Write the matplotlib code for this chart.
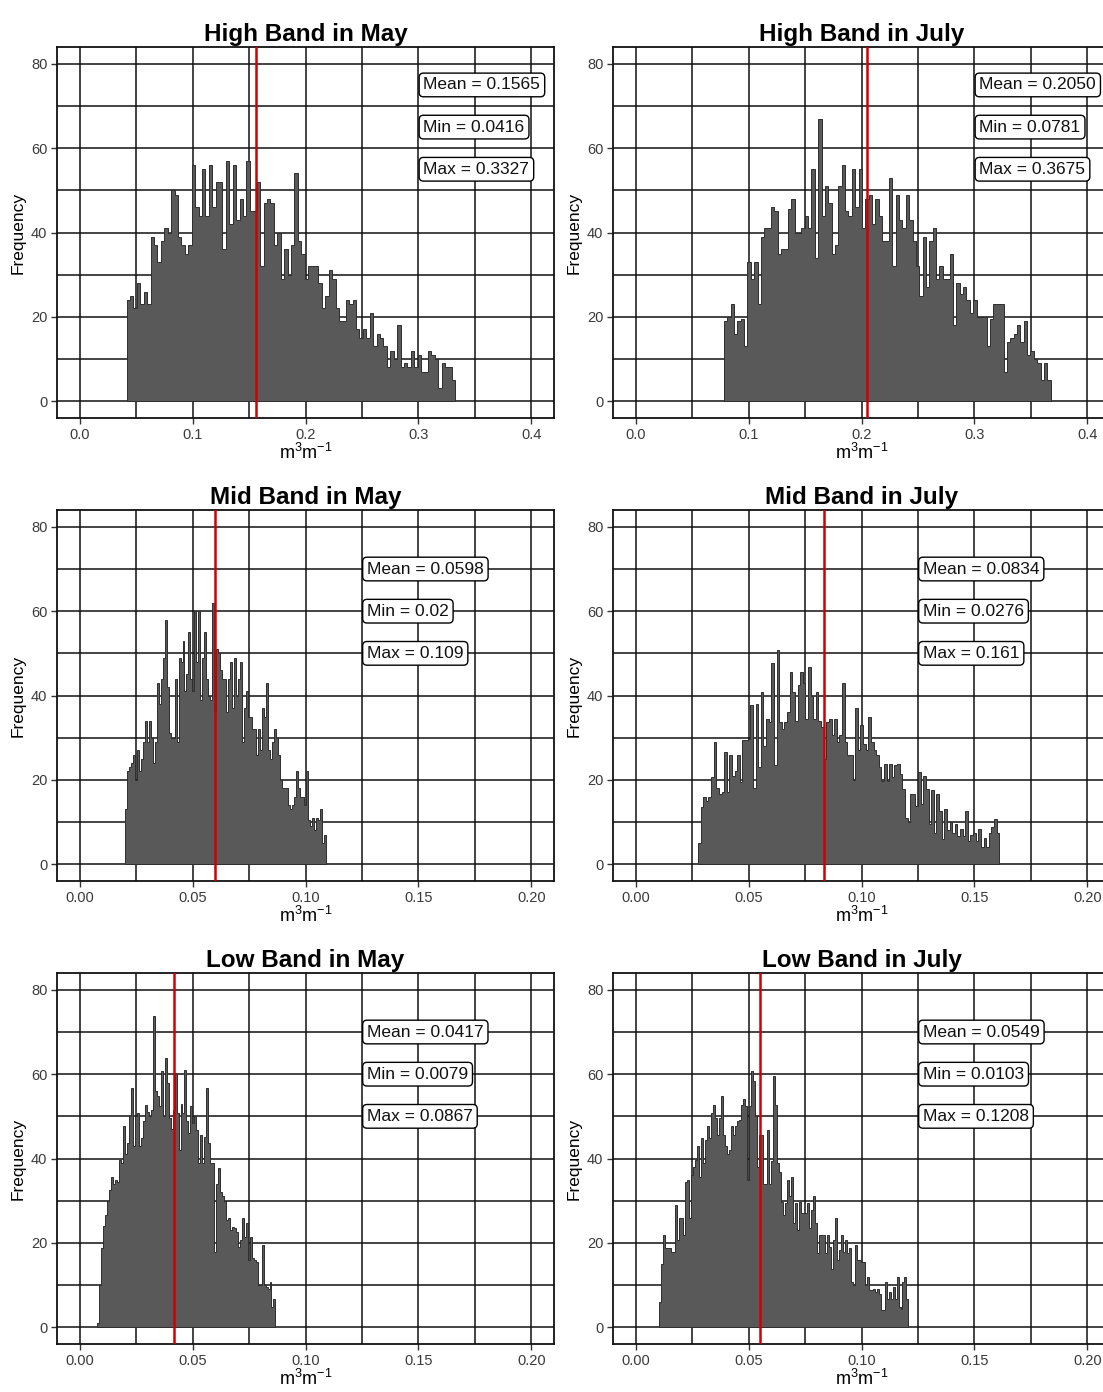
import numpy as np
import matplotlib
matplotlib.use('Agg')
import matplotlib.pyplot as plt
from matplotlib.ticker import MultipleLocator, FormatStrFormatter

plt.rcParams['font.family'] = ['Liberation Sans', 'DejaVu Sans']
plt.rcParams['mathtext.fontset'] = 'custom'
plt.rcParams['mathtext.rm'] = 'Liberation Sans'
plt.rcParams['mathtext.it'] = 'Liberation Sans'

# ---------------- data ----------------
titles = ["High Band in May", "High Band in July",
          "Mid Band in May", "Mid Band in July",
          "Low Band in May", "Low Band in July"]

means = [0.1565, 0.2050, 0.0598, 0.0834, 0.0417, 0.0549]
mins = [0.0416, 0.0781, 0.02, 0.0276, 0.0079, 0.0103]
maxs = [0.3327, 0.3675, 0.109, 0.161, 0.0867, 0.1208]
mean_labels = ["0.1565", "0.2050", "0.0598", "0.0834", "0.0417", "0.0549"]
min_labels = ["0.0416", "0.0781", "0.02", "0.0276", "0.0079", "0.0103"]
max_labels = ["0.3327", "0.3675", "0.109", "0.161", "0.0867", "0.1208"]

high_may_counts = [24, 25, 22, 28, 23, 26, 23, 39, 37, 33, 38, 41, 40, 50, 49, 39,
                   37, 35, 37, 56, 46, 44, 55, 44, 56, 46, 52, 52, 36, 57, 42, 56,
                   43, 48, 44, 57, 45, 45, 52, 32, 47, 48, 47, 37, 40, 29, 36, 30,
                   37, 54, 38, 35, 29, 32, 32, 32, 28, 22, 25, 31, 29, 22, 19, 19,
                   24, 23, 24, 17, 15, 17, 15, 21, 13, 16, 15, 13, 8, 12, 10, 18,
                   8, 9, 8, 12, 8, 11, 7, 7, 12, 11, 10, 3, 9, 8, 8, 5]

high_july_counts = [19, 20, 23, 16, 19, 19.5, 13, 33, 29, 33, 23, 39, 41, 41, 46, 45,
                    35, 36, 36, 45.5, 48, 40, 40, 41, 44, 41, 55, 34, 67, 44, 51, 47,
                    35, 37, 51, 56, 45, 44, 55, 46, 55, 41, 48, 49, 42, 48, 44, 38,
                    38, 53, 32, 49, 43, 41, 49, 43, 38, 32, 25, 39, 27, 38, 41, 29,
                    32, 29, 29, 35, 18, 28, 25.5, 27, 24, 21, 24, 20, 20, 20, 13, 19.5,
                    23, 23, 23, 7, 14, 15, 16, 18, 14, 19, 11, 12, 10, 9, 5, 9, 5]

mid_may_counts = [13, 22, 23, 24, 26, 20, 27, 22, 25, 29, 34, 29, 34, 30, 24, 29,
                  43, 38, 44, 49, 58, 42, 31, 30, 30, 44, 29, 49, 48, 53, 41, 45,
                  55, 44, 41, 60, 48, 60, 39, 49, 55, 44, 40, 39, 62, 36, 51, 50,
                  46, 44, 44, 36, 44, 48, 37, 49, 40, 44, 48, 29, 37, 41, 35, 35,
                  32, 32, 26, 32, 27, 37, 35, 43, 27, 25, 29, 32, 30, 26, 20, 18,
                  18, 18, 14, 13, 14, 16, 22, 18, 16, 16, 14, 22, 10.5, 9, 11, 8,
                  11, 10.5, 13, 5, 7]

mid_july_counts = [5, 13.5, 16, 15, 16, 20.6, 29, 18, 16.7, 17, 26.7, 17, 26, 21, 22, 26,
                   19.4, 29.5, 29.5, 29.6, 37.7, 18, 37.9, 23, 40.9, 28, 34.5, 33.7, 47.8, 23.4, 50.8, 33.7,
                   32, 33.7, 36, 45.6, 40.9, 34, 42.5, 45.6, 43, 34.5, 46.8, 40, 34.5, 40.9, 34, 32.5,
                   25, 33.7, 34.5, 30.6, 34.5, 29, 30.6, 42.9, 29, 25.8, 26, 20, 37, 27,
                   33, 28.6, 27, 35, 29, 27, 26, 23, 19.8, 23.8, 19.8, 23.8, 20.6, 23.4, 23.8, 21.4,
                   17.9, 11, 9.9, 16.7, 16.7, 13.9, 21.8, 14.3, 21, 17.9, 9.5, 17.5, 7.5, 16.7, 12.7, 6,
                   13, 8, 10, 7.5, 9.5, 6.7, 8.3, 6.7, 12.7, 5.5, 7, 7.5, 5.5, 8.3, 4, 6.3,
                   4, 7.5, 8.7, 10.7, 7.5]

low_may_counts = [1, 10, 18.7, 24, 26.6, 30, 32.5, 35.7, 34, 35, 34.5, 39.7, 39, 47.6, 41, 43.6,
                  50, 56.7, 42.9, 50, 50.8, 43, 44.8, 49, 52.8, 51, 50, 51.6, 73.8, 56, 54.8, 52.4,
                  60.7, 50, 63.9, 58, 49.6, 47, 51.6, 60, 50.8, 42, 53, 50.8, 61, 49, 46, 52.4,
                  48.4, 50, 46.8, 39, 45.6, 38.9, 45, 56.7, 43.6, 39, 38.9, 17.9, 34, 37.7, 32, 31,
                  30, 25.4, 26, 23, 23.8, 23.4, 22.6, 19, 20.6, 25.8, 21.4, 24.6, 15.9, 21.4, 16.3, 16,
                  15.5, 10, 10, 19.4, 10, 9.5, 9, 10.7, 4.8, 6.7]

low_july_counts = [6, 15, 21.8, 18.7, 18.7, 18.7, 17.9, 17.9, 29, 20.6, 25.8, 25.8, 21.8, 34.5, 35, 26,
                   36, 38, 39.7, 42.9, 35.7, 44.8, 38.9, 44.4, 47.6, 44.8, 50.8, 52.8, 49.6, 45.6, 49.6, 54.8,
                   45.6, 43, 41, 42, 47.6, 45.6, 47.6, 48.8, 49.2, 52.8, 54, 52.4, 35, 52.4, 60.7, 58.3,
                   50, 38, 45.6, 45.6, 34, 34, 46.8, 34, 39.3, 59.5, 52.8, 38.9, 36.9, 29.8, 26.6, 29.4,
                   35, 31, 35.7, 24.6, 29.4, 23, 29.8, 27, 27, 27, 29.4, 23.4, 27.8, 31, 24.6, 17.5,
                   21.8, 21.8, 21.8, 17.5, 21.8, 19, 13.9, 20.6, 25.8, 15.9, 18.3, 21.8, 17.9, 20.6, 17.5, 18.7,
                   10.7, 10, 19.4, 15.9, 15.9, 15.5, 15.5, 10, 11.9, 8.7, 8.7, 9, 8.3, 9, 7.9, 4,
                   4, 10.7, 6.7, 8.3, 6.7, 9.5, 6.7, 11.9, 4.8, 4.4, 10.7, 11.9, 6.7]

all_counts = [high_may_counts, high_july_counts, mid_may_counts,
              mid_july_counts, low_may_counts, low_july_counts]

x_upper = [0.4, 0.4, 0.2, 0.2, 0.2, 0.2]
label_x = [0.3, 0.3, 0.125, 0.125, 0.125, 0.125]
label_y_high = [75, 65, 55]
label_y_low = [70, 60, 50]

# ---------------- figure ----------------
W, H = 1103, 1392
fig = plt.figure(figsize=(W / 100, H / 100), dpi=100)

col_left = [57, 613]
row_top = [47, 510, 973]
ax_w, ax_h = 497, 371

tick_col = '#3a3a3a'
ann_size = 12.5
ann_pad = 0.25

for i in range(6):
    r, c = divmod(i, 2)
    left = col_left[c] / W
    bottom = 1 - (row_top[r] + ax_h) / H
    ax = fig.add_axes([left, bottom, ax_w / W, ax_h / H])

    counts = np.array(all_counts[i], dtype=float)
    edges = np.linspace(mins[i], maxs[i], len(counts) + 1)
    centers = 0.5 * (edges[:-1] + edges[1:])
    ax.hist(centers, bins=edges, weights=counts, histtype='stepfilled',
            facecolor='#595959', edgecolor='#2e2e2e', linewidth=0.7, zorder=2)

    ax.axvline(means[i], color='#d00000', linewidth=1.8, zorder=3)

    xu = x_upper[i]
    ax.set_xlim(-0.05 * xu, 1.05 * xu)
    ax.set_ylim(-4, 84)

    major = xu / 4
    ax.xaxis.set_major_locator(MultipleLocator(major))
    ax.xaxis.set_minor_locator(MultipleLocator(major / 2))
    ax.yaxis.set_major_locator(MultipleLocator(20))
    ax.yaxis.set_minor_locator(MultipleLocator(10))
    ax.xaxis.set_major_formatter(FormatStrFormatter('%.1f' if xu == 0.4 else '%.2f'))

    ax.set_axisbelow(True)
    ax.grid(True, which='both', color='#111111', linewidth=1.1, zorder=0)
    ax.tick_params(which='major', length=4, width=1, color='#333333',
                   labelsize=10.5, labelcolor=tick_col, pad=3)
    ax.tick_params(which='minor', length=0)
    for s in ax.spines.values():
        s.set_color('#111111')
        s.set_linewidth(1.3)

    ax.set_title(titles[i], fontsize=17.5, fontweight='bold', pad=4)
    ax.set_ylabel('Frequency', fontsize=12.5, labelpad=4)
    ax.set_xlabel(r'm$^{3}$m$^{-1}$', fontsize=13, labelpad=1)

    ys = label_y_high if r == 0 else label_y_low
    texts = ['Mean = ' + mean_labels[i], 'Min = ' + min_labels[i], 'Max = ' + max_labels[i]]
    for t, yv in zip(texts, ys):
        ax.annotate(t, xy=(label_x[i], yv), xytext=(ann_pad * ann_size + 0.5, 0),
                    textcoords='offset points', ha='left', va='center',
                    fontsize=ann_size, color='#111111', zorder=5,
                    bbox=dict(boxstyle='round,pad=%.2f,rounding_size=0.25' % ann_pad,
                              facecolor='white', edgecolor='black', linewidth=1.0))

fig.savefig('out.png', dpi=100)
